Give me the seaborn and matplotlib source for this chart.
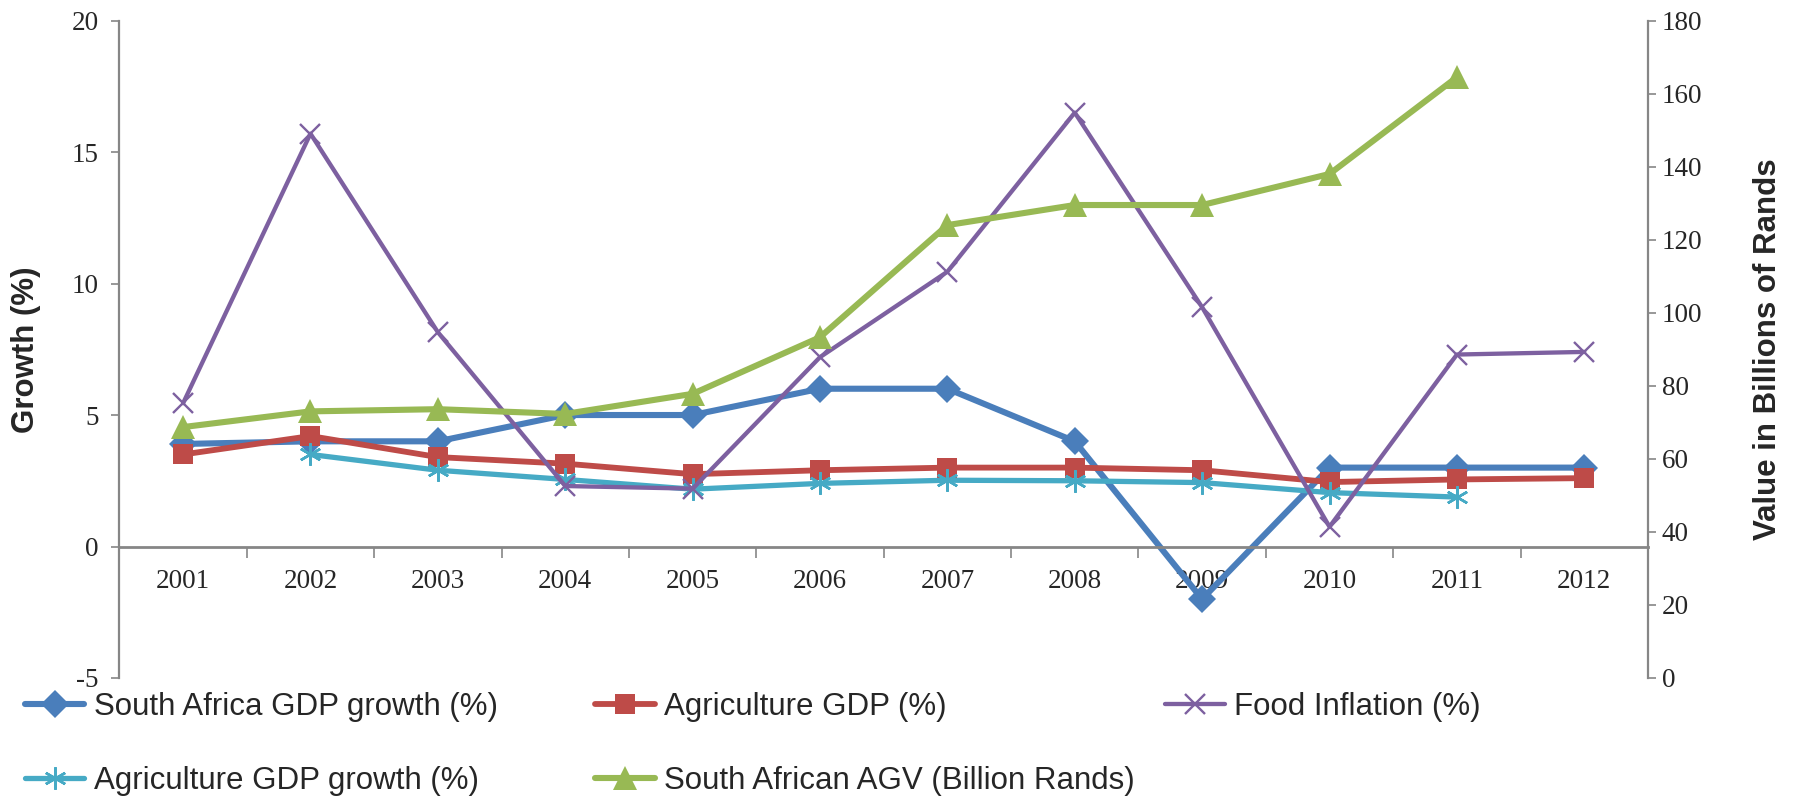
import numpy as np
import pandas as pd
import matplotlib
matplotlib.use("Agg")
import matplotlib.pyplot as plt
import seaborn as sns

# ---- data ----
years = [2001, 2002, 2003, 2004, 2005, 2006, 2007, 2008, 2009, 2010, 2011, 2012]
sa_gdp_growth = [3.9, 4.0, 4.0, 5.0, 5.0, 6.0, 6.0, 4.0, -2.0, 3.0, 3.0, 3.0]
agri_gdp = [3.5, 4.2, 3.4, 3.15, 2.75, 2.9, 3.0, 3.0, 2.9, 2.45, 2.55, 2.6]
food_inflation = [5.45, 15.7, 8.15, 2.3, 2.2, 7.2, 10.45, 16.5, 9.1, 0.75, 7.3, 7.4]
agri_gdp_growth = [np.nan, 3.5, 2.9, 2.55, 2.18, 2.4, 2.52, 2.5, 2.43, 2.05, 1.88, np.nan]
agv_billion = [68.7, 73.0, 73.6, 72.3, 77.8, 93.3, 124.0, 129.5, 129.5, 138.0, 164.5, np.nan]

labels = ["South Africa GDP growth (%)", "Agriculture GDP (%)", "Food Inflation (%)",
          "Agriculture GDP growth (%)", "South African AGV (Billion Rands)"]
left_ticks = [-5, 0, 5, 10, 15, 20]
right_ticks = [0, 20, 40, 60, 80, 100, 120, 140, 160, 180]

df = pd.DataFrame({
    "year": years,
    "sa": sa_gdp_growth,
    "agri": agri_gdp,
    "food": food_inflation,
    "agrig": agri_gdp_growth,
    "agv": agv_billion,
})

sns.set_style("white")
plt.rcParams["font.family"] = ["Liberation Serif", "DejaVu Serif"]
plt.rcParams["axes.unicode_minus"] = False

fig = plt.figure(figsize=(17.93, 7.98), dpi=100)
ax = fig.add_axes([0.0666, 0.1504, 0.8525, 0.8238])
ax2 = ax.twinx()

blue = "#4A7EBB"
red = "#BE4B48"
purple = "#7D60A0"
cyan = "#46AAC5"
green = "#98B954"
gray = "#868686"

handles = {}

def draw(axis, col, label, color, marker, ms, lw, mew=0):
    sub = df[["year", col]].dropna()
    sns.lineplot(data=sub, x="year", y=col, ax=axis, color=color, marker=marker,
                 markersize=ms, linewidth=lw, markeredgewidth=mew,
                 markeredgecolor=color, estimator=None, sort=False,
                 legend=False, label=label)
    handles[label] = axis.lines[-1]

draw(ax, "sa", labels[0], blue, "D", 14, 4.4)
draw(ax, "agri", labels[1], red, "s", 15, 4.2)
draw(ax, "agrig", labels[3], cyan, (6, 2, 0), 16, 3.8, mew=1.8)
draw(ax, "food", labels[2], purple, "x", 15, 3.1, mew=1.7)
draw(ax2, "agv", labels[4], green, "^", 17, 4.4)

for a in (ax, ax2):
    if a.get_legend() is not None:
        a.get_legend().remove()

ax.set_xlim(2000.5, 2012.5)
ax.set_ylim(-5, 20)
ax2.set_ylim(0, 180)

ax.set_yticks(left_ticks)
ax2.set_yticks(right_ticks)
ax.set_xticks(years)
ax.set_xticks(np.arange(2000.5, 2013.0, 1.0), minor=True)

ax.spines["top"].set_visible(False)
ax2.spines["top"].set_visible(False)
ax.spines["right"].set_visible(False)
ax2.spines["left"].set_visible(False)
ax2.spines["bottom"].set_visible(False)
ax.spines["bottom"].set_position(("data", 0))
for sp, a in [("left", ax), ("bottom", ax), ("right", ax2)]:
    a.spines[sp].set_color(gray)
    a.spines[sp].set_linewidth(1.6 if sp != "bottom" else 2.0)

ax.tick_params(axis="y", which="major", direction="out", length=6, width=1.2,
               color=gray, labelsize=19.5, pad=9, left=True)
ax.tick_params(axis="x", which="major", length=0, labelsize=19.5, pad=16, bottom=True)
ax.tick_params(axis="x", which="minor", direction="out", length=8, width=1.2,
               color=gray, bottom=True)
ax2.tick_params(axis="y", which="major", direction="out", length=6, width=1.2,
                color=gray, labelsize=19.5, pad=4, right=True)

for t in ax.get_yticklabels() + ax.get_xticklabels() + ax2.get_yticklabels():
    t.set_fontfamily(["Liberation Serif", "DejaVu Serif"])

ax.set_xlabel("")
ax.set_ylabel("Growth (%)", fontsize=22.5, fontweight="bold",
              family=["Liberation Sans", "DejaVu Sans"])
ax2.set_ylabel("Value in Billions of Rands", fontsize=22.5, fontweight="bold",
               family=["Liberation Sans", "DejaVu Sans"])
ax.yaxis.set_label_coords(-0.051, 0.5)
ax2.yaxis.set_label_coords(1.069, 0.5)

# legend entries placed individually (row-wise layout like the original)
legend_pos = {
    labels[0]: (0.0139, 0.114),
    labels[1]: (0.332, 0.114),
    labels[2]: (0.650, 0.114),
    labels[3]: (0.0139, 0.0213),
    labels[4]: (0.332, 0.0213),
}
for lab, (x, y) in legend_pos.items():
    fig.legend(handles=[handles[lab]], labels=[lab], loc="center left",
               bbox_to_anchor=(x, y), frameon=False, borderpad=0,
               borderaxespad=0, handlelength=1.9, handletextpad=0.3,
               prop={"family": ["Liberation Sans", "DejaVu Sans"], "size": 22.5})

fig.savefig("out.png", dpi=100)
